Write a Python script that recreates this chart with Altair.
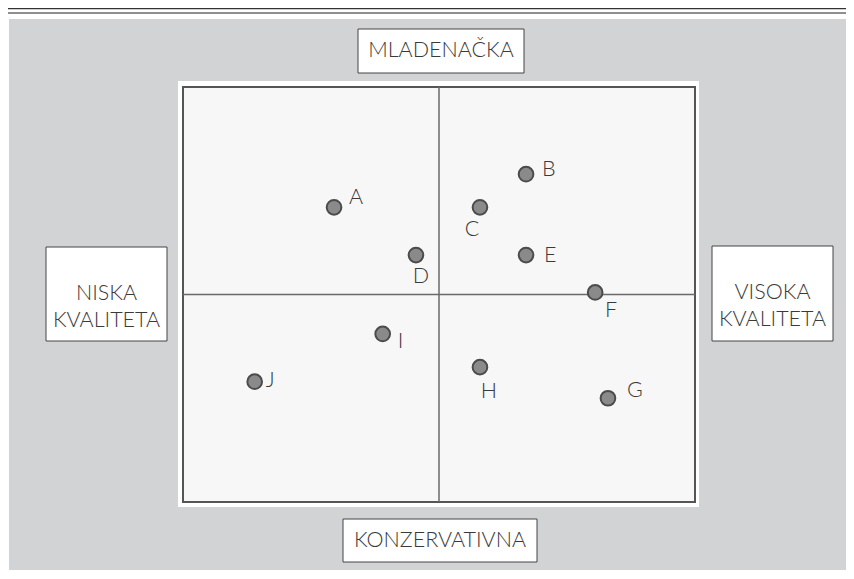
import altair as alt
import pandas as pd

# ---- data ----
brands = ["A", "B", "C", "D", "E", "F", "G", "H", "I", "J"]
quality = [-4.1, 3.4, 1.6, -0.9, 3.4, 6.1, 6.6, 1.6, -2.2, -7.2]   # niska -> visoka kvaliteta
youth = [4.2, 5.8, 4.2, 1.9, 1.9, 0.1, -5.0, -3.5, -1.9, -4.2]     # konzervativna -> mladenačka

axis_top = ["MLADENAČKA"]
axis_bottom = ["KONZERVATIVNA"]
axis_left = ["NISKA\nKVALITETA"]
axis_right = ["VISOKA\nKVALITETA"]

domain_x = [-10, 10]
domain_y = [-10, 10]

# ---- layout / style ----
W, H = 838, 562
FONT = "Lato"
TXT = "#3a3a3a"
label_style = {  # dx, dy, align
    "A": (15, -9, "left"),
    "B": (16, -4, "left"),
    "C": (-8, 23, "center"),
    "D": (5, 22, "center"),
    "E": (18, 1, "left"),
    "F": (16, 19, "center"),
    "G": (19, -7, "left"),
    "H": (9, 25, "center"),
    "I": (15, 8, "left"),
    "J": (11, -1, "left"),
}

xs = alt.Scale(domain=domain_x, range=[175, 687])
ys = alt.Scale(domain=domain_y, range=[494, 79])

one = pd.DataFrame({"d": [0]})
df = pd.DataFrame({"brand": brands, "q": quality, "y": youth})


def rect(x1, x2, y1, y2, fill, stroke=None, sw=1):
    kw = dict(fill=fill)
    if stroke:
        kw.update(stroke=stroke, strokeWidth=sw)
    return alt.Chart(one).mark_rect(**kw).encode(
        x=alt.value(x1), x2=alt.value(x2), y=alt.value(y1), y2=alt.value(y2)
    )


def hline(y, color, sw):
    return alt.Chart(one).mark_rule(color=color, strokeWidth=sw).encode(
        x=alt.value(0), x2=alt.value(W), y=alt.value(y)
    )


def label(texts, x, y):
    return alt.Chart(pd.DataFrame({"t": texts})).mark_text(
        font=FONT, fontWeight=300, fontSize=21.5, color=TXT, lineBreak="\n",
        lineHeight=27, align="center", baseline="middle"
    ).encode(text="t:N", x=alt.value(x), y=alt.value(y))


layers = [
    hline(0.5, "#333333", 1.5),
    hline(5, "#8f8f8f", 2),
    rect(1, W, 11, H, "#d2d3d4"),
    rect(170, 691, 73, 499, "#ffffff"),
]

# plot area
area = alt.Chart(pd.DataFrame({"x1": [domain_x[0]], "x2": [domain_x[1]],
                               "y1": [domain_y[0]], "y2": [domain_y[1]]})).mark_rect(
    fill="#f7f7f7", stroke="#555555", strokeWidth=2
).encode(
    x=alt.X("x1:Q", scale=xs, axis=None), x2="x2:Q",
    y=alt.Y("y1:Q", scale=ys, axis=None), y2="y2:Q",
)
layers.append(area)

vline = alt.Chart(pd.DataFrame({"x": [0], "y1": [domain_y[0]], "y2": [domain_y[1]]})).mark_rule(
    color="#6a6a6a", strokeWidth=1.5
).encode(x=alt.X("x:Q", scale=xs, axis=None), y=alt.Y("y1:Q", scale=ys, axis=None), y2="y2:Q")
hrule = alt.Chart(pd.DataFrame({"y": [0], "x1": [domain_x[0]], "x2": [domain_x[1]]})).mark_rule(
    color="#6a6a6a", strokeWidth=1.5
).encode(y=alt.Y("y:Q", scale=ys, axis=None), x=alt.X("x1:Q", scale=xs, axis=None), x2="x2:Q")
layers += [vline, hrule]

# axis label boxes
layers += [
    rect(350, 516, 21, 65, "#ffffff", "#444444", 1),
    label(axis_top, 433, 43),
    rect(335, 529, 511, 554, "#ffffff", "#444444", 1),
    label(axis_bottom, 432, 533),
    rect(38, 159, 239, 333, "#ffffff", "#444444", 1),
    label(axis_left, 98.5, 286),
    rect(704, 825, 238, 333, "#ffffff", "#444444", 1),
    label(axis_right, 764.5, 285),
]

base = alt.Chart(df).encode(
    x=alt.X("q:Q", scale=xs, axis=None),
    y=alt.Y("y:Q", scale=ys, axis=None),
)
layers.append(base.mark_circle(size=215, color="#8a8a8a", stroke="#4b4b4b",
                               strokeWidth=2, opacity=1))

for b in brands:
    dx, dy, al = label_style[b]
    layers.append(
        base.transform_filter(alt.datum.brand == b).mark_text(
            font=FONT, fontWeight=300, fontSize=21.5, color=TXT,
            dx=dx, dy=dy, align=al, baseline="middle"
        ).encode(text="brand:N")
    )

chart = alt.layer(*layers).properties(
    width=W, height=H, padding=0,
    autosize=alt.AutoSizeParams(type="none"), background="#ffffff"
).configure_view(stroke=None)

chart.save("out.html", embed_options={"renderer": "svg", "actions": False})
